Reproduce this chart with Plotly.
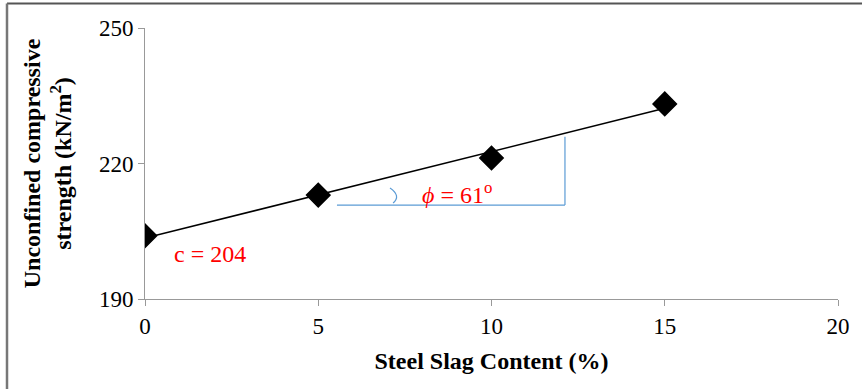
import numpy as np
import plotly.graph_objects as go

slag_content = [0, 5, 10, 15]
ucs_values = [204.0, 213.0, 221.2, 233.2]
x_ticks = [0, 5, 10, 15, 20]
y_ticks = [190, 220, 250]

slope, intercept = np.polyfit(slag_content, ucs_values, 1)
trend_x = [slag_content[0], slag_content[-1]]
trend_y = [intercept + slope * v for v in trend_x]

L, R, T, B = 145, 24, 28, 90
W, H = 862, 389
pw, ph = W - L - R, H - T - B

def px(xp):
    return (xp - L) / pw

def py(yp):
    return (H - B - yp) / ph

fig = go.Figure()
fig.add_trace(go.Scatter(x=trend_x, y=trend_y, mode="lines",
                         line=dict(color="black", width=1.5), showlegend=False, hoverinfo="skip"))
fig.add_trace(go.Scatter(x=slag_content, y=ucs_values, mode="markers",
                         marker=dict(symbol="diamond", size=18, color="black",
                                     line=dict(color="black", width=1.5)), showlegend=False))

blue = "#5b9bd5"
fig.add_shape(type="line", x0=5.54, x1=12.12, y0=210.8, y1=210.8, line=dict(color=blue, width=1.2))
fig.add_shape(type="line", x0=12.12, x1=12.12, y0=210.8, y1=225.9, line=dict(color=blue, width=1.2))
fig.add_shape(type="path", path="M 7.07,214.6 Q 7.4,212.9 7.16,211.25", line=dict(color=blue, width=1.2))

fig.add_annotation(x=9.0, y=213.4, text="<i>ϕ</i> = 61<sup>o</sup>", showarrow=False,
                   font=dict(family="Liberation Serif", size=24, color="#ff0000"))
fig.add_annotation(x=1.88, y=200.0, text="c = 204", showarrow=False,
                   font=dict(family="Liberation Serif", size=24, color="#ff0000"))

# outer frame lines
fig.add_shape(type="line", xref="paper", yref="paper", x0=px(7), x1=px(W + 5), y0=py(3.5), y1=py(3.5),
              line=dict(color="#555555", width=2))
fig.add_shape(type="line", xref="paper", yref="paper", x0=px(7), x1=px(7), y0=py(3.5), y1=py(H + 5),
              line=dict(color="#777777", width=2.5))

axis_font = dict(family="Liberation Serif", size=23, color="black")
title_font = dict(family="Liberation Serif", size=24, color="black")
fig.update_xaxes(range=[0, 20], tickvals=x_ticks, ticks="outside", ticklen=6, tickcolor="#999999",
                 showline=True, linecolor="#999999", linewidth=1, showgrid=False, zeroline=False,
                 tickfont=axis_font,
                 title=dict(text="<b>Steel Slag Content (%)</b>", font=title_font, standoff=14))
fig.update_yaxes(range=[190, 250], tickvals=y_ticks, ticks="outside", ticklen=6, tickcolor="#999999",
                 showline=True, linecolor="#999999", linewidth=1, showgrid=False, zeroline=False,
                 tickfont=axis_font,
                 title=dict(text="<b>Unconfined compressive<br>strength (kN/m<sup>2</sup>)</b>",
                            font=title_font, standoff=20))
fig.update_layout(width=W, height=H, margin=dict(l=L, r=R, t=T, b=B),
                  plot_bgcolor="white", paper_bgcolor="white")
fig.write_html("out.html", config={"displayModeBar": False},
               post_script="document.body.style.margin='0';document.body.style.padding='0';")
